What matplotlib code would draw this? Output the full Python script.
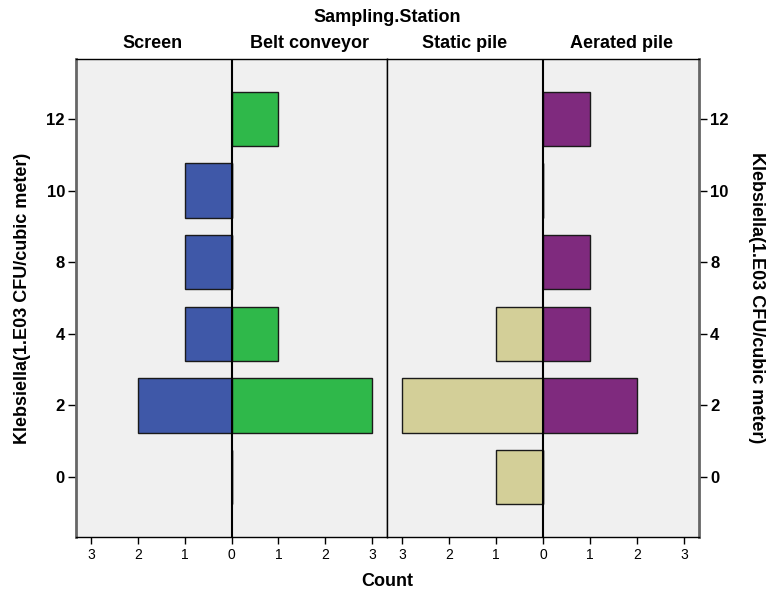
import matplotlib
matplotlib.use("Agg")
import matplotlib.pyplot as plt
import numpy as np

plt.rcParams['font.family'] = ['Liberation Sans', 'DejaVu Sans']

# categories of Klebsiella (bottom to top)
levels = ['0', '2', '4', '8', '10', '12']

# counts per sampling station
screen = [0, 2, 1, 1, 1, 0]
belt = [0, 3, 1, 0, 0, 1]
static = [1, 3, 1, 0, 0, 0]
aerated = [0, 2, 1, 1, 0, 1]

tick_vals = [-3, -2, -1, 0, 1, 2, 3]
tick_labels = ['3', '2', '1', '0', '1', '2', '3']

c_screen = '#3f58a8'
c_belt = '#2fb84a'
c_static = '#d3cf98'
c_aerated = '#7f2a7e'
bg = '#f0f0f0'

fig = plt.figure(figsize=(7.75, 5.93), dpi=100)
W, H = 775, 593
x0, xm, x1 = 76, 387, 699
y0, y1 = 537, 59

axL = fig.add_axes([x0 / W, 1 - y0 / H, (xm - x0) / W, (y0 - y1) / H])
axR = fig.add_axes([xm / W, 1 - y0 / H, (x1 - xm) / W, (y0 - y1) / H])

ypos = np.arange(len(levels))
bh = 0.76


def pyramid(ax, left_vals, right_vals, lc, rc):
    ax.set_facecolor(bg)
    ax.barh(ypos, [-v for v in left_vals], height=bh, color=lc,
            edgecolor='#1a1a1a', linewidth=1, zorder=2)
    ax.barh(ypos, right_vals, height=bh, color=rc,
            edgecolor='#1a1a1a', linewidth=1, zorder=2)
    ax.axvline(0, color='black', lw=1.5, zorder=3)
    ax.set_xlim(-3.32, 3.32)
    ax.set_ylim(-0.84, len(levels) - 1 + 0.84)
    ax.set_xticks(tick_vals)
    ax.set_xticklabels(tick_labels, fontsize=10)
    ax.tick_params(axis='x', length=5, width=1, direction='out', pad=3)
    for s in ax.spines.values():
        s.set_color('black')
        s.set_linewidth(1)


pyramid(axL, screen, belt, c_screen, c_belt)
pyramid(axR, static, aerated, c_static, c_aerated)

axL.set_yticks(ypos)
axL.set_yticklabels(levels, fontsize=12, fontweight='bold')
axL.tick_params(axis='y', length=6, width=1, pad=2)
axL.spines['left'].set_color('#666666')
axL.spines['left'].set_linewidth(2)
axL.set_ylabel('Klebsiella(1.E03 CFU/cubic meter)', fontsize=13,
               fontweight='bold', labelpad=11)

axR.yaxis.tick_right()
axR.yaxis.set_label_position('right')
axR.set_yticks(ypos)
axR.set_yticklabels(levels, fontsize=12, fontweight='bold')
axR.tick_params(axis='y', length=6, width=1, pad=2)
axR.spines['right'].set_color('#666666')
axR.spines['right'].set_linewidth(2)
axR.set_ylabel('Klebsiella(1.E03 CFU/cubic meter)', fontsize=13,
               fontweight='bold', rotation=270, labelpad=26)

fig.text(387 / W, 1 - 17 / H, 'Sampling.Station', ha='center', va='center',
         fontsize=13, fontweight='bold')
for lab, xc in [('Screen', 153), ('Belt conveyor', 310),
                ('Static pile', 465), ('Aerated pile', 622)]:
    fig.text(xc / W, 1 - 44 / H, lab, ha='center', va='center',
             fontsize=13, fontweight='bold')
fig.text(387 / W, 1 - 582 / H, 'Count', ha='center', va='center',
         fontsize=13, fontweight='bold')

fig.savefig('out.png', dpi=100, facecolor='white')
